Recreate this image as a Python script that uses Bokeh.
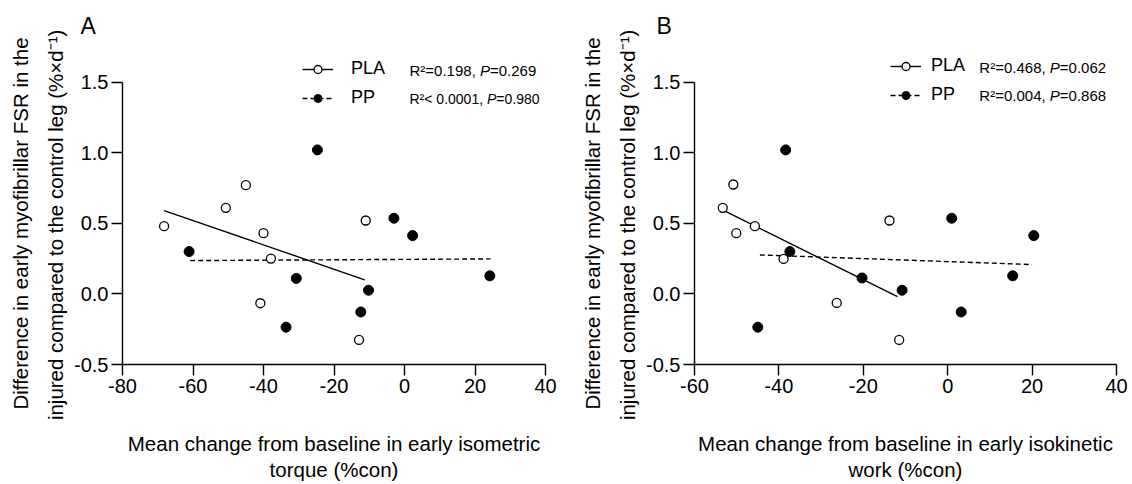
from bokeh.plotting import figure
from bokeh.layouts import row
from bokeh.models import Range1d, FixedTicker, PrintfTickFormatter, Legend, LegendItem, Label, Title
from bokeh.embed import file_html
from bokeh.resources import INLINE

FONT = "Liberation Sans"

# ---------------- data ----------------
# Panel A: isometric torque
a_pla_x = [-68.2, -50.7, -45.0, -40.0, -37.9, -40.9, -11.0, -12.9]
a_pla_y = [0.48, 0.61, 0.77, 0.43, 0.25, -0.066, 0.52, -0.326]
a_pp_x = [-61.1, -24.7, -30.7, -33.6, -3.0, 2.3, -10.2, -12.4, 24.2]
a_pp_y = [0.30, 1.02, 0.11, -0.236, 0.536, 0.413, 0.026, -0.128, 0.128]
a_pla_fit_x = [-68.2, -11.3]
a_pla_fit_y = [0.59, 0.10]
a_pp_fit_x = [-60.8, 24.4]
a_pp_fit_y = [0.236, 0.248]
a_stats_pla = ["=0.198", "0.269"]
a_stats_pp = ["< 0.0001", "0.980"]

# Panel B: isokinetic work
b_pla_x = [-53.3, -50.8, -50.1, -45.7, -38.9, -26.3, -13.8, -11.5]
b_pla_y = [0.61, 0.775, 0.43, 0.48, 0.248, -0.064, 0.52, -0.326]
b_pp_x = [-38.4, -37.4, -45.0, -20.3, -10.8, 0.95, 3.2, 15.4, 20.4]
b_pp_y = [1.02, 0.30, -0.236, 0.113, 0.026, 0.536, -0.128, 0.128, 0.413]
b_pla_fit_x = [-53.0, -11.9]
b_pla_fit_y = [0.59, -0.02]
b_pp_fit_x = [-44.5, 20.0]
b_pp_fit_y = [0.276, 0.208]
b_stats_pla = ["=0.468", "0.062"]
b_stats_pp = ["=0.004", "0.868"]

a_xticks = [-80, -60, -40, -20, 0, 20, 40]
b_xticks = [-60, -40, -20, 0, 20, 40]
yticks = [-0.5, 0.0, 0.5, 1.0, 1.5]

y_title_1 = "Difference in early myofibrillar FSR in the"
y_title_2 = "injured compared to the control leg (%×d\u207b\u00b9)"
a_x_title = "Mean change from baseline in early isometric\ntorque (%con)"
b_x_title = "Mean change from baseline in early isokinetic\nwork (%con)"

# Arial / Liberation Sans advance widths (per 1000 em), used for text layout
ADV = {" ": 278, ",": 278, ".": 278, "=": 584, "<": 584, "\u00b2": 333, "\u00b9": 333,
       "\u207b": 500, "(": 333, ")": 333, "%": 889, "\u00d7": 584,
       "D": 722, "F": 611, "S": 667, "R": 722, "P": 667,
       "i": 222, "j": 222, "l": 222, "f": 278, "t": 278, "r": 333,
       "c": 500, "s": 500, "y": 500, "m": 833}
for d in "0123456789abdeghnopqu":
    ADV.setdefault(d, 556)


def text_width(s, size):
    return sum(ADV.get(c, 556) for c in s) * size / 1000.0


def stat_label(p, x, y, parts, size):
    off = 0.0
    for txt, italic in parts:
        p.add_layout(Label(x=x, y=y, x_offset=off, text=txt, text_font=FONT,
                           text_font_size=f"{size}px",
                           text_font_style="italic" if italic else "normal",
                           text_baseline="middle", text_align="left",
                           text_color="black"))
        off += text_width(txt, size)


FRAME_TOP, FRAME_BOTTOM = 40, 364
AXIS_MID = 222.8   # screen y of the middle of the y axis span (-0.5..1.5)
YT_SIZE = 20.5


def make_panel(letter, xr, xticks, width, right_border, pla_x, pla_y, pp_x, pp_y,
               pla_fx, pla_fy, pp_fx, pp_fy, x_title, stats_pla, stats_pp,
               legend_loc, standoff, stat_x, stat_rows, stat_sizes, letter_off):
    p = figure(width=width, height=484, output_backend="svg", toolbar_location=None,
               x_range=Range1d(*xr), y_range=Range1d(-0.5, 1.795),
               min_border_left=122, min_border_right=right_border,
               min_border_top=FRAME_TOP, min_border_bottom=484 - FRAME_BOTTOM)
    p.outline_line_color = None
    p.grid.visible = False
    p.background_fill_color = "white"
    p.border_fill_color = "white"

    p.title.text = letter
    p.title.align = "left"
    p.title.offset = letter_off
    p.title.standoff = 4
    p.title.text_font = FONT
    p.title.text_font_size = "23px"
    p.title.text_font_style = "normal"
    p.title.text_color = "black"

    l1 = p.line(pla_fx, pla_fy, line_color="black", line_width=1.4)
    l2 = p.line(pp_fx, pp_fy, line_color="black", line_width=1.4, line_dash="5 3")
    s1 = p.scatter(pla_x, pla_y, size=9, marker="circle", fill_color="white",
                   line_color="black", line_width=1.3)
    s2 = p.scatter(pp_x, pp_y, size=10, marker="circle", fill_color="black",
                   line_color="black", line_width=1)

    for ax in (p.xaxis[0], p.yaxis[0]):
        ax.axis_line_width = 1.4
        ax.axis_line_color = "black"
        ax.major_tick_line_color = "black"
        ax.major_tick_line_width = 1.4
        ax.major_tick_out = 11
        ax.major_tick_in = 0
        ax.minor_tick_line_color = None
        ax.major_label_text_font = FONT
        ax.major_label_text_font_size = "20px"
        ax.major_label_text_color = "black"
        ax.major_label_standoff = 3
        ax.axis_label_text_font = FONT
        ax.axis_label_text_font_size = "20.5px"
        ax.axis_label_text_font_style = "normal"
        ax.axis_label_text_color = "black"
        ax.axis_label_text_line_height = 1.17

    p.xaxis.ticker = FixedTicker(ticks=xticks)
    p.xaxis.formatter = PrintfTickFormatter(format="%d")
    p.xaxis.axis_label = x_title
    p.xaxis.axis_label_standoff = 36

    p.yaxis.ticker = FixedTicker(ticks=yticks)
    p.yaxis.formatter = PrintfTickFormatter(format="%.1f")
    p.yaxis.bounds = (-0.5, 1.5)

    # two-line y title, centred on the axis span (-0.5..1.5)
    for txt in (y_title_2, y_title_1):
        start = AXIS_MID + text_width(txt, YT_SIZE) / 2.0
        p.add_layout(Title(text=txt, align="left", offset=FRAME_BOTTOM - start, standoff=10,
                           text_font=FONT, text_font_size=f"{YT_SIZE}px",
                           text_font_style="normal", text_color="black"), "left")

    legend = Legend(items=[LegendItem(label="PLA", renderers=[l1, s1]),
                           LegendItem(label="PP", renderers=[l2, s2])],
                    location=legend_loc, orientation="vertical",
                    glyph_width=31, glyph_height=20, label_height=20,
                    label_standoff=standoff, spacing=8, padding=0, margin=0,
                    border_line_color=None, background_fill_alpha=0,
                    label_text_font=FONT, label_text_font_size="18px",
                    label_text_color="black")
    p.add_layout(legend)

    stat_label(p, stat_x, stat_rows[0],
               [("R\u00b2" + stats_pla[0] + ", ", False), ("P", True), ("=" + stats_pla[1], False)],
               stat_sizes[0])
    stat_label(p, stat_x, stat_rows[1],
               [("R\u00b2" + stats_pp[0] + ", ", False), ("P", True), ("=" + stats_pp[1], False)],
               stat_sizes[1])
    return p


pa = make_panel("A", (-80, 40), a_xticks, 572, 27, a_pla_x, a_pla_y, a_pp_x, a_pp_y,
                a_pla_fit_x, a_pla_fit_y, a_pp_fit_x, a_pp_fit_y, a_x_title,
                a_stats_pla, a_stats_pp, (180, 256), 18, 1.42, (1.582, 1.384), (15, 14), -42)
pb = make_panel("B", (-60, 40), b_xticks, 560, 16, b_pla_x, b_pla_y, b_pp_x, b_pp_y,
                b_pla_fit_x, b_pla_fit_y, b_pp_fit_x, b_pp_fit_y, b_x_title,
                b_stats_pla, b_stats_pp, (196, 259), 10, 7.5, (1.603, 1.405), (15, 15), -38)

layout = row(pa, pb)
open("out.html", "w").write(file_html(layout, INLINE))
